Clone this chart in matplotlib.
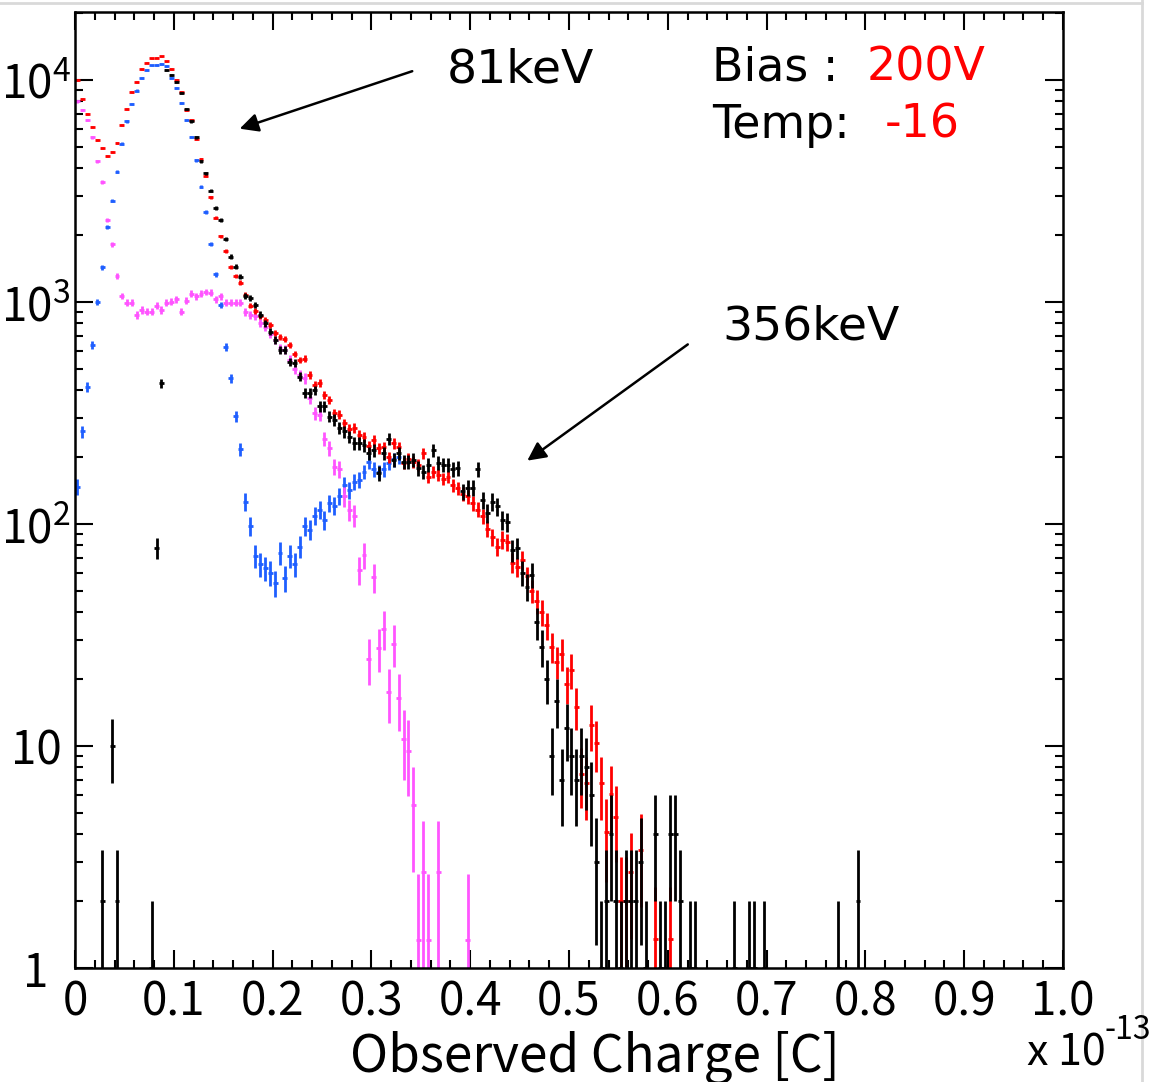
import numpy as np
import matplotlib
matplotlib.use("Agg")
import matplotlib.pyplot as plt
from matplotlib import ticker
from matplotlib import font_manager

# histogram binning of the observed charge (units of 1e-13 C)
bin_width = 0.005

# counts per bin (0 = empty bin)
black_counts = [0, 0, 0, 0, 0, 2, 0, 10, 2, 0, 0, 0, 0, 0, 0, 1, 78, 430, 11100, 10500,
                9800, 8700, 7400, 6500, 5500, 4300, 3800, 3170, 2640, 2340, 1916, 1600, 1440, 1300, 1060, 1040,
                965, 876, 802, 735, 674, 608, 608, 538, 530, 461, 388, 390, 400, 338, 338, 304,
                294, 270, 261, 247, 231, 231, 226, 208, 215, 169, 208, 242, 194, 208, 190, 190,
                194, 178, 172, 184, 215, 188, 184, 184, 176, 178, 140, 145, 145, 176, 128, 112,
                126, 120, 104, 102, 76, 78, 60, 52, 59, 36, 28, 20, 9, 16, 7, 12,
                9, 7, 9, 8, 6, 3, 1, 2, 4, 2, 1, 2, 2, 2, 3, 1,
                0, 4, 1, 1, 4, 4, 2, 0, 1, 1, 0, 0, 0, 0, 0, 0,
                0, 1, 0, 0, 1, 1, 0, 1, 0, 0, 0, 0, 0, 0, 0, 0,
                0, 0, 0, 0, 0, 0, 1, 0, 0, 0, 2]
red_counts = [10000, 8200, 7030, 6120, 5370, 4920, 4550, 4720, 5200, 6270, 7400, 8800, 9800, 11200, 11950, 12500,
              12600, 12750, 12100, 11200, 10000, 8800, 7300, 6600, 5430, 4390, 3700, 2960, 2390, 1970, 1690, 1440,
              1310, 1220, 1075, 960, 910, 860, 830, 787, 722, 698, 683, 640, 583, 548, 554, 469,
              423, 432, 380, 362, 315, 310, 284, 268, 270, 252, 247, 224, 238, 219, 222, 200,
              231, 222, 188, 197, 190, 184, 208, 163, 172, 166, 160, 163, 150, 145, 137, 133,
              124, 116, 108, 95, 87, 79, 85, 83, 67, 64, 69, 58, 50, 45, 40, 35,
              28, 24, 26, 19, 22, 15, 7.5, 6.8, 12.4, 10.3, 6.8, 4.1, 6.1, 4.8, 2.0, 2.0,
              2.7, 0, 3.4, 0, 0, 1.35, 0, 0, 1.35]
blue_counts = [147, 261, 415, 640, 1000, 1430, 2170, 2860, 3860, 5150, 6490, 7800, 8950, 10200, 11100, 11600,
               11700, 11750, 11500, 10200, 9150, 7850, 6600, 5520, 4350, 3300, 2540, 1820, 1330, 965, 625, 453,
               306, 217, 126, 98, 72, 66, 63, 60, 54, 74, 57, 72, 66, 79, 98, 94,
               109, 116, 104, 124, 121, 133, 150, 142, 155, 158, 172, 190, 176, 172, 176, 188,
               195, 200]
magenta_counts = [8000, 7300, 6600, 5520, 4290, 3460, 2340, 1820, 1310, 1064, 993, 993, 874, 920, 904, 904,
                  960, 920, 990, 1000, 1030, 904, 1010, 1090, 1060, 1090, 1110, 1100, 1030, 1060, 993, 990,
                  993, 993, 900, 874, 860, 802, 770, 720, 674, 620, 608, 548, 500, 470, 453, 369,
                  315, 310, 242, 219, 181, 176, 133, 116, 109, 62, 72.5, 24.6, 57.4, 27.6, 33.8, 17.5,
                  28.8, 16.4, 10.8, 9.5, 5.4, 1.33, 2.7, 1.33, 0, 2.7, 0, 0, 0, 0, 0, 1.33]

# weight of one entry in each spectrum (sets the Poisson error bars)
weights = {"black": 1.0, "red": 0.676, "blue": 1.0, "magenta": 1.33}
colors = {"black": "#000000", "red": "#ff0000", "blue": "#1f5fff", "magenta": "#ff55ff"}

x_ticklabels = ["0", "0.1", "0.2", "0.3", "0.4", "0.5", "0.6", "0.7", "0.8", "0.9", "1.0"]
y_ticks = [1, 10, 100, 1000, 10000]
y_ticklabels = ["1", "10", "10$^{2}$", "10$^{3}$", "10$^{4}$"]

# narrow font for the axis texts (ROOT style), fall back if not installed
names = {f.name for f in font_manager.fontManager.ttflist}
if "Liberation Sans Narrow" in names:
    label_font, tick_size, title_size = "Liberation Sans Narrow", 36, 42
else:
    label_font, tick_size, title_size = "Noto Sans CJK JP", 33, 37
plt.rcParams["mathtext.fontset"] = "custom"
plt.rcParams["mathtext.rm"] = label_font
plt.rcParams["mathtext.it"] = label_font
plt.rcParams["mathtext.bf"] = label_font

W, H = 1157, 1082
fig = plt.figure(figsize=(W / 100, H / 100), dpi=100)
ax = fig.add_axes([75 / W, 1 - 968 / H, 988 / W, 956 / H])


def draw(counts, name):
    v = np.asarray(counts, dtype=float)
    x = (np.arange(len(v)) + 0.5) * bin_width
    keep = v > 0
    x, v = x[keep], v[keep]
    err = np.sqrt(weights[name] * v)
    low = np.minimum(err, v * 0.999)
    ax.errorbar(x, v, yerr=[low, err], xerr=bin_width / 2, fmt="none",
                ecolor=colors[name], elinewidth=2.0, capsize=0)


draw(blue_counts, "blue")
draw(magenta_counts, "magenta")
draw(red_counts, "red")
draw(black_counts, "black")

ax.set_yscale("log")
ax.set_xlim(0, 1.0)
ax.set_ylim(1, 2.02e4)

ax.set_xticks(np.arange(len(x_ticklabels)) * 0.1)
ax.set_xticklabels(x_ticklabels)
ax.xaxis.set_minor_locator(ticker.MultipleLocator(0.02))
ax.set_yticks(y_ticks)
ax.set_yticklabels(y_ticklabels)
ax.yaxis.set_minor_locator(ticker.LogLocator(base=10, subs=np.arange(2, 10)))
ax.yaxis.set_minor_formatter(ticker.NullFormatter())

ax.tick_params(which="both", direction="in", top=True, right=True, width=1.5, color="black")
ax.tick_params(which="major", length=13)
ax.tick_params(which="minor", length=6)
ax.tick_params(axis="x", which="major", pad=7)
ax.tick_params(axis="y", which="major", pad=28)
for lab in ax.get_xticklabels():
    lab.set_fontfamily(label_font)
    lab.set_fontsize(tick_size)
for lab in ax.get_yticklabels():
    lab.set_fontfamily(label_font)
    lab.set_fontsize(tick_size)
    lab.set_horizontalalignment("center")
for sp in ax.spines.values():
    sp.set_linewidth(1.8)

# annotations
ax.annotate("", xy=(0.164, 0.877), xytext=(0.344, 0.939), xycoords="axes fraction",
            arrowprops=dict(arrowstyle="-|>", color="black", lw=1.8, mutation_scale=28))
ax.text(0.3765, 0.939, "81keV", transform=ax.transAxes, fontsize=34, va="center", ha="left")
ax.annotate("", xy=(0.4555, 0.529), xytext=(0.6225, 0.654), xycoords="axes fraction",
            arrowprops=dict(arrowstyle="-|>", color="black", lw=1.8, mutation_scale=28))
ax.text(0.655, 0.6705, "356keV", transform=ax.transAxes, fontsize=34, va="center", ha="left")

fig.text(712 / W, 1 - 68 / H, "Bias :", fontsize=33, va="center", ha="left")
fig.text(867 / W, 1 - 68 / H, "200V", fontsize=33, va="center", ha="left", color="#ff0000")
fig.text(712 / W, 1 - 125 / H, "Temp:", fontsize=33, va="center", ha="left")
fig.text(885 / W, 1 - 125 / H, "-16", fontsize=33, va="center", ha="left", color="#ff0000")

fig.text(595 / W, 1 - 1057 / H, "Observed Charge [C]", fontsize=title_size, family=label_font,
         ha="center", va="center")
fig.text(1027 / W, 1 - 1053 / H, "x 10", fontsize=tick_size - 2, family=label_font, ha="left", va="center")
fig.text(1104 / W, 1 - 1030 / H, "-13", fontsize=tick_size - 10, family=label_font, ha="left", va="center")

# light frame of the screenshot
fig.add_artist(plt.Line2D([0, 1142 / W], [1 - 3 / H, 1 - 3 / H], transform=fig.transFigure,
                          color="#d9d9d9", lw=2))
fig.add_artist(plt.Line2D([1142 / W, 1142 / W], [0, 1], transform=fig.transFigure,
                          color="#d9d9d9", lw=2))

fig.savefig("out.png", dpi=100)
